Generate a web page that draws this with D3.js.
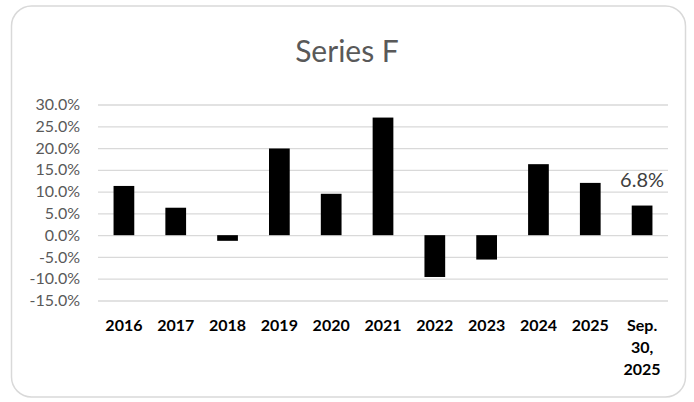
<!DOCTYPE html>
<html>
<head>
<meta charset="utf-8">
<script src="https://cdn.jsdelivr.net/npm/d3@7"></script>
<style>
  html, body { margin: 0; padding: 0; background: #fff; }
  svg { display: block; }
  text { font-family: Lato, "Open Sans", sans-serif; }
</style>
</head>
<body>
<svg id="chart" width="694" height="402"></svg>
<script>
// Annual returns, in percent
const categories = ["2016", "2017", "2018", "2019", "2020", "2021", "2022", "2023", "2024", "2025", "Sep. 30, 2025"];
const values = [11.3, 6.3, -1.3, 19.9, 9.5, 27.0, -9.6, -5.6, 16.3, 12.0, 6.8];
const yTicks = [-15, -10, -5, 0, 5, 10, 15, 20, 25, 30];
const title = "Series F";
const labelledIndex = 10; // only the last bar carries a value label

const svg = d3.select("#chart");

// Rounded chart frame
svg.append("rect")
  .attr("x", 11.5).attr("y", 6)
  .attr("width", 674).attr("height", 391)
  .attr("rx", 20).attr("ry", 20)
  .attr("fill", "#fff")
  .attr("stroke", "#d9d9d9")
  .attr("stroke-width", 1.5);

svg.append("text")
  .attr("x", 347).attr("y", 62)
  .attr("text-anchor", "middle")
  .attr("font-size", 30)
  .attr("font-weight", 400)
  .attr("fill", "#595959")
  .text(title);

const x = d3.scaleBand()
  .domain(categories)
  .range([98, 668])
  .paddingInner(0.6)
  .paddingOuter(0.3);

const y = d3.scaleLinear()
  .domain([-15, 30])
  .range([300.5, 104.5]);

// Horizontal gridlines and percentage axis
const yAxis = d3.axisLeft(y)
  .tickValues(yTicks)
  .tickSize(-(668 - 98))
  .tickPadding(18)
  .tickFormat(d => d.toFixed(1) + "%");

const gy = svg.append("g")
  .attr("transform", "translate(98,0)")
  .call(yAxis);
gy.select(".domain").remove();
gy.selectAll(".tick line").attr("stroke", "#d9d9d9").attr("stroke-width", 1.3);
gy.selectAll(".tick text")
  .attr("font-size", 16)
  .attr("fill", "#595959")
  .attr("font-family", "Lato, sans-serif");

// Bars
svg.append("g")
  .selectAll("rect")
  .data(values)
  .join("rect")
  .attr("x", (d, i) => x(categories[i]))
  .attr("width", x.bandwidth())
  .attr("y", d => Math.min(y(d), y(0)))
  .attr("height", d => Math.abs(y(d) - y(0)))
  .attr("fill", "#000");

// Value label on the latest bar
svg.append("text")
  .attr("x", x(categories[labelledIndex]) + x.bandwidth() / 2)
  .attr("y", y(values[labelledIndex]) - 19)
  .attr("text-anchor", "middle")
  .attr("font-size", 20)
  .attr("fill", "#404040")
  .text(values[labelledIndex].toFixed(1) + "%");

// Category axis labels below the plot, wrapped to one word per line
const xAxis = d3.axisBottom(x).tickSize(0).tickPadding(0);
const gx = svg.append("g")
  .attr("transform", "translate(0,317)")
  .call(xAxis);
gx.select(".domain").remove();
gx.selectAll(".tick text")
  .attr("font-size", 16)
  .attr("font-weight", 700)
  .attr("fill", "#000")
  .attr("font-family", "Lato, sans-serif")
  .attr("dy", null)
  .attr("y", 0)
  .each(function(d) {
    const words = d.length > 4 ? d.split(" ") : [d];
    const t = d3.select(this).text(null);
    words.forEach((w, k) => {
      t.append("tspan")
        .attr("x", 0)
        .attr("y", 13.5 + k * 22)
        .text(w);
    });
  });
</script>
</body>
</html>
